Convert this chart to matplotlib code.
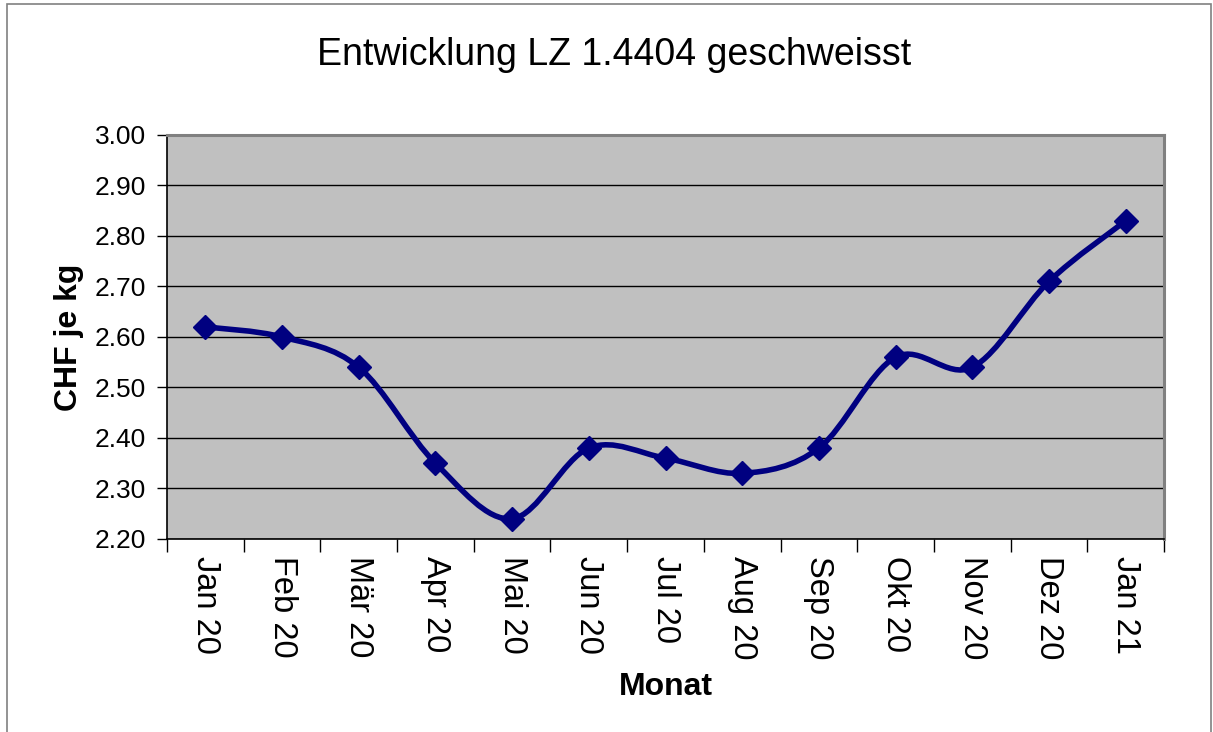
import matplotlib
matplotlib.use("Agg")
import matplotlib.pyplot as plt
from matplotlib.path import Path
from matplotlib.patches import PathPatch, Rectangle
import numpy as np

months = ["Jan 20", "Feb 20", "Mär 20", "Apr 20", "Mai 20", "Jun 20", "Jul 20",
          "Aug 20", "Sep 20", "Okt 20", "Nov 20", "Dez 20", "Jan 21"]
prices = [2.62, 2.60, 2.54, 2.35, 2.24, 2.38, 2.36, 2.33, 2.38, 2.56, 2.54, 2.71, 2.83]
yticks = [2.20, 2.30, 2.40, 2.50, 2.60, 2.70, 2.80, 2.90, 3.00]

title = "Entwicklung LZ 1.4404 geschweisst"
xlabel = "Monat"
ylabel = "CHF je kg"

plt.rcParams['font.family'] = ['Liberation Sans', 'DejaVu Sans']

fig = plt.figure(figsize=(12.13, 7.32), dpi=100)
fig.patches.append(Rectangle((0.006, -0.05), 0.992, 1.044, transform=fig.transFigure,
                             fill=False, edgecolor='#808080', linewidth=1.2, zorder=0))

ax = fig.add_axes([0.1377, 0.2637, 0.9596 - 0.1377, 0.8156 - 0.2637])
ax.set_facecolor('#C0C0C0')

x = np.arange(len(prices))
y = np.array(prices)

# Excel-like smoothed line: cubic Bezier through the points
verts = [(x[0], y[0])]
codes = [Path.MOVETO]
n = len(x)
for i in range(n - 1):
    p0 = np.array([x[i - 1], y[i - 1]]) if i > 0 else np.array([x[i], y[i]])
    p1 = np.array([x[i], y[i]])
    p2 = np.array([x[i + 1], y[i + 1]])
    p3 = np.array([x[i + 2], y[i + 2]]) if i + 2 < n else p2
    c1 = p1 + (p2 - p0) / 6.0
    c2 = p2 - (p3 - p1) / 6.0
    verts += [tuple(c1), tuple(c2), tuple(p2)]
    codes += [Path.CURVE4] * 3
ax.add_patch(PathPatch(Path(verts, codes), facecolor='none', edgecolor='#000080',
                       linewidth=4.0, zorder=3, capstyle='round', joinstyle='round'))
ax.plot(x, y, linestyle='none', marker='D', markersize=12, color='#000080', zorder=4)

ax.set_xlim(-0.5, n - 0.5)
ax.set_ylim(2.20, 3.00)
ax.set_yticks(yticks)
ax.set_yticklabels([f"{v:.2f}" for v in yticks], fontsize=19)
ax.yaxis.grid(True, color='black', linewidth=1.0)
ax.set_axisbelow(True)

ax.set_xticks(x)
ax.set_xticklabels(months, rotation=270, fontsize=23.5, va='top', ha='center')
ax.set_xticks(np.arange(-0.5, n, 1.0), minor=True)
ax.tick_params(axis='x', which='major', length=0, pad=12)
ax.tick_params(axis='x', which='minor', length=9, width=1, direction='out', color='black')
ax.tick_params(axis='y', length=7, width=1, direction='out', pad=8)

for s in ['left', 'bottom']:
    ax.spines[s].set_color('black')
    ax.spines[s].set_linewidth(1.2)
for s in ['top', 'right']:
    ax.spines[s].set_color('#808080')
    ax.spines[s].set_linewidth(2.2)

ax.set_xlabel(xlabel, fontsize=23, fontweight='bold', labelpad=9)
ax.set_ylabel(ylabel, fontsize=23, fontweight='bold', labelpad=8)
fig.text(0.506, 0.925, title, fontsize=27, ha='center', va='center')

fig.savefig('out.png', dpi=100)
